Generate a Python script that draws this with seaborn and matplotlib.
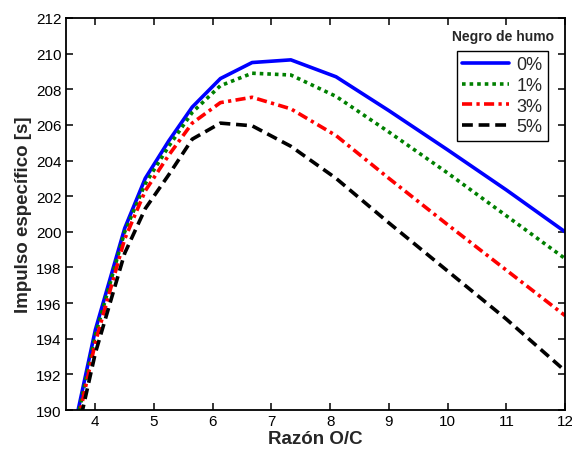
import matplotlib
matplotlib.use("Agg")
import matplotlib.pyplot as plt
import seaborn as sns
import pandas as pd

# Data
razon_oc = [3.7, 4.0, 4.5, 4.85, 5.25, 5.65, 6.13, 6.67, 7.33, 8.1, 9.0, 10.0, 11.0, 12.0]
isp_0 = [189.9, 194.5, 200.2, 203.0, 205.1, 207.0, 208.6, 209.5, 209.65, 208.7, 206.8, 204.6, 202.35, 200.0]
isp_1 = [189.6, 194.2, 200.0, 202.7, 204.8, 206.7, 208.2, 208.9, 208.8, 207.6, 205.6, 203.3, 200.9, 198.5]
isp_3 = [189.3, 193.8, 199.6, 202.3, 204.3, 206.1, 207.25, 207.55, 206.9, 205.4, 203.0, 200.4, 197.85, 195.3]
isp_5 = [188.8, 193.2, 198.8, 201.3, 203.2, 205.2, 206.1, 205.95, 204.8, 203.0, 200.5, 197.8, 195.1, 192.2]
series_labels = ["0%", "1%", "3%", "5%"]
legend_title = "Negro de humo"
x_ticks = [4, 5, 6, 7, 8, 9, 10, 11, 12]
y_ticks = [190, 192, 194, 196, 198, 200, 202, 204, 206, 208, 210, 212]

df = pd.concat([
    pd.DataFrame({"x": razon_oc, "y": v, "serie": lab})
    for v, lab in zip([isp_0, isp_1, isp_3, isp_5], series_labels)
])

sns.set_style("ticks", {"xtick.direction": "in", "ytick.direction": "in",
                        "xtick.top": True, "ytick.right": True,
                        "xtick.bottom": True, "ytick.left": True,
                        "axes.edgecolor": "black",
                        "xtick.color": "black", "ytick.color": "black"})
plt.rcParams["font.family"] = ["Liberation Sans", "DejaVu Sans"]

fig = plt.figure(figsize=(5.72, 4.52), dpi=100)
ax = fig.add_axes([0.1154, 0.0907, 0.8724, 0.8673])

colors = ["#0000ff", "#008000", "#ff0000", "#000000"]
styles = ["-", (0, (1, 1.1)), (0, (2.8, 1.2, 0.9, 1.2)), (0, (3.0, 1.6))]

for lab, c, ls in zip(series_labels, colors, styles):
    sub = df[df["serie"] == lab]
    sns.lineplot(data=sub, x="x", y="y", ax=ax, color=c, linestyle=ls,
                 linewidth=2.6, label=lab, sort=False)

ax.set_xlim(3.5, 12)
ax.set_ylim(190, 212)
ax.set_xticks(x_ticks)
ax.set_yticks(y_ticks)
ax.tick_params(axis="both", which="major", direction="in", length=5, width=1.1,
               bottom=True, left=True, top=True, right=True,
               labelsize=11, colors="black", pad=3)
for s in ax.spines.values():
    s.set_visible(True)
    s.set_linewidth(1.3)
    s.set_color("black")

ax.set_xlabel("Razón O/C", fontsize=13.5, fontweight="bold", labelpad=1)
ax.set_ylabel("Impulso específico [s]", fontsize=13.5, fontweight="bold", labelpad=3)

leg = ax.legend(loc="upper right", bbox_to_anchor=(0.966, 0.916), frameon=True,
                fancybox=False, framealpha=1, edgecolor="black", fontsize=13,
                handlelength=2.6, handletextpad=0.4, borderpad=0.3,
                labelspacing=0.2, borderaxespad=0)
leg.get_frame().set_linewidth(1.0)
ax.text(0.875, 0.953, legend_title, transform=ax.transAxes, ha="center",
        va="center", fontsize=10, fontweight="bold")

fig.savefig("out.png", dpi=100)
